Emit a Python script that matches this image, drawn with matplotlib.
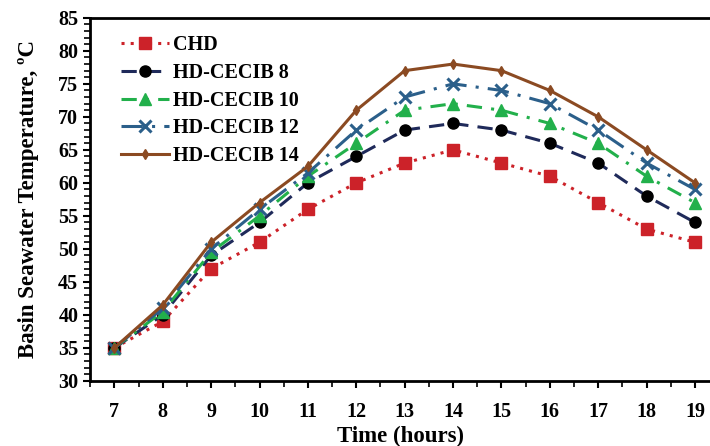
import matplotlib
matplotlib.use("Agg")
import matplotlib.pyplot as plt
from matplotlib.ticker import MultipleLocator

hours = [7, 8, 9, 10, 11, 12, 13, 14, 15, 16, 17, 18, 19]

chd = [35, 39, 47, 51, 56, 60, 63, 65, 63, 61, 57, 53, 51]
cecib8 = [35, 40, 49, 54, 60, 64, 68, 69, 68, 66, 63, 58, 54]
cecib10 = [35, 40.5, 49.5, 55, 61, 66, 71, 72, 71, 69, 66, 61, 57]
cecib12 = [35, 41, 50, 56, 61.5, 68, 73, 75, 74, 72, 68, 63, 59]
cecib14 = [35, 41.5, 51, 57, 62.5, 71, 77, 78, 77, 74, 70, 65, 60]

labels = ["CHD", "HD-CECIB 8", "HD-CECIB 10", "HD-CECIB 12", "HD-CECIB 14"]

plt.rcParams["font.family"] = ["Liberation Serif", "DejaVu Serif"]
plt.rcParams["font.weight"] = "bold"

fig = plt.figure(figsize=(7.1, 4.46), dpi=100)
ax = fig.add_axes([0.127, 0.146, 0.873, 0.814])

ax.plot(hours, chd, color="#cc2229", ls=(0, (1, 2)), lw=2.2, marker="s",
        ms=8, mfc="#cc2229", mec="#cc2229", label=labels[0])
ax.plot(hours, cecib8, color="#1f2a5a", ls=(0, (5, 3)), lw=2.2, marker="o",
        ms=8, mfc="black", mec="black", label=labels[1])
ax.plot(hours, cecib10, color="#22b04b", ls=(0, (5, 3, 1, 3)), lw=2.2, marker="^",
        ms=8, mfc="#22b04b", mec="#22b04b", label=labels[2])
ax.plot(hours, cecib12, color="#2b5f8a", ls=(0, (7, 3, 1, 3)), lw=2.2, marker="x",
        ms=9, mew=2.2, label=labels[3])
ax.plot(hours, cecib14, color="#8b4a22", ls="-", lw=2.2, marker="d",
        ms=5, mfc="#8b4a22", mec="#8b4a22", label=labels[4])

ax.set_xlim(6.5, 19.31)
ax.set_ylim(30, 85)
ax.set_xticks(hours)
ax.xaxis.set_minor_locator(MultipleLocator(0.5))
ax.yaxis.set_major_locator(MultipleLocator(5))
ax.yaxis.set_minor_locator(MultipleLocator(1))
ax.tick_params(axis="both", which="major", direction="out", length=5, width=1.5,
               labelsize=14.5)
ax.tick_params(axis="both", which="minor", direction="out", length=4, width=1.2)
ax.tick_params(axis="x", pad=10)
for lab in ax.get_xticklabels() + ax.get_yticklabels():
    lab.set_fontweight("bold")

ax.spines["right"].set_visible(False)
for s in ("left", "bottom", "top"):
    ax.spines[s].set_linewidth(2)

ax.set_xlabel("Time (hours)", fontsize=16.5, fontweight="bold", labelpad=3)
ax.set_ylabel("Basin Seawater Temperature, ºC", fontsize=16.5, fontweight="bold",
              labelpad=14)

leg = ax.legend(loc="upper left", bbox_to_anchor=(0.03, 0.985), frameon=False,
                prop={"size": 14.5, "weight": "bold"}, handlelength=2.4,
                labelspacing=0.38, handletextpad=0.2, borderaxespad=0.2)

fig.savefig("out.png", dpi=100)
